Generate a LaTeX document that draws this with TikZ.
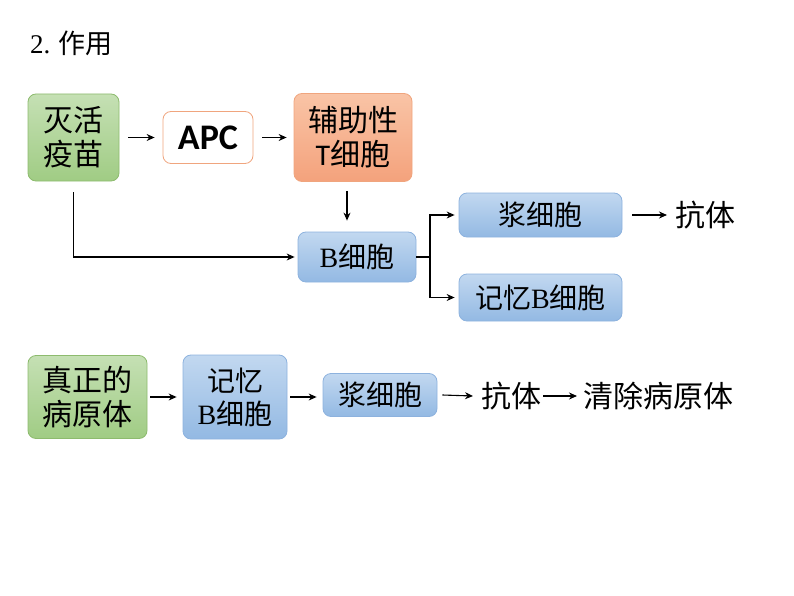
\documentclass[tikz,border=0pt]{standalone}
\usepackage{fontspec}
\setmainfont{Liberation Serif}
\newfontfamily\cjk{Noto Sans CJK SC}
\newfontfamily\calib{Carlito}
\usetikzlibrary{arrows.meta}
\definecolor{gfillT}{HTML}{C5E0B4}
\definecolor{gfillB}{HTML}{A0CC84}
\definecolor{gline}{HTML}{8DBB6E}
\definecolor{ofillT}{HTML}{F9C4A6}
\definecolor{ofillB}{HTML}{F4A27C}
\definecolor{oline}{HTML}{F0A57E}
\definecolor{bfillT}{HTML}{C2D8F0}
\definecolor{bfillB}{HTML}{93B9E3}
\definecolor{bline}{HTML}{8DB2DE}
\tikzset{
  x=1pt,y=-1pt,
  box/.style={rounded corners=8pt, line width=0.8pt, inner sep=0pt, align=center, font=\cjk\fontsize{30}{34}\selectfont},
  gbox/.style={box, draw=gline, top color=gfillT, bottom color=gfillB},
  obox/.style={box, draw=oline, top color=ofillT, bottom color=ofillB},
  bbox/.style={box, draw=bline, top color=bfillT, bottom color=bfillB, font=\cjk\fontsize{28}{33}\selectfont},
  wbox/.style={box, draw=oline, fill=white},
  txt/.style={inner sep=0pt, font=\cjk\fontsize{30}{34}\selectfont},
  arr/.style={-{Stealth[length=8pt,width=7pt]}, line width=1.1pt},
}
\begin{document}
\begin{tikzpicture}
\useasboundingbox (0,0) rectangle (794,596);
\node[anchor=west, inner sep=0pt, font=\cjk\fontsize{27}{30}\selectfont] (title) at (30,43) {{\rmfamily 2.} 作用};
% row 1
\node[gbox, minimum width=91, minimum height=87] (vac) at (73.5,137.5) {灭活\\疫苗};
\node[wbox, minimum width=90, minimum height=52, font=\calib\bfseries\fontsize{36}{40}\selectfont] (apc) at (208,137.5) {APC};
\node[obox, minimum width=118, minimum height=88] (th) at (353,137.5) {辅助性\\{\calib T}细胞};
\node[bbox, minimum width=118, minimum height=50] (b) at (357,257) {{\rmfamily B}细胞};
\node[bbox, minimum width=163, minimum height=44] (p1) at (540.5,215) {浆细胞};
\node[bbox, minimum width=163, minimum height=47] (m1) at (540.5,297.5) {记忆{\rmfamily B}细胞};
\node[txt, anchor=west] (ab1) at (675,215) {抗体};
\coordinate (split) at (430,257);
\draw[arr] ([xshift=9]vac.east) -- ([xshift=-8]apc.west);
\draw[arr] ([xshift=9]apc.east) -- ([xshift=-7]th.west);
\draw[arr] ([xshift=-6,yshift=-9]th.south) -- ([xshift=-10,yshift=11]b.north);
\draw[arr] ([yshift=-11]vac.south) |- ([xshift=-3]b.west);
\draw[line width=1.1pt] (b.east) -- (split);
\draw[arr] (split) |- ([xshift=-4]p1.west);
\draw[arr] (split) |- ([xshift=-4]m1.west);
\draw[arr] ([xshift=10]p1.east) -- ([xshift=-8]ab1.west);
% row 2
\node[gbox, minimum width=119, minimum height=83] (path) at (87.5,397) {真正的\\病原体};
\node[bbox, minimum width=104, minimum height=84] (m2) at (235,397) {记忆\\{\rmfamily B}细胞};
\node[bbox, minimum width=114, minimum height=43] (p2) at (380,395) {浆细胞};
\node[txt, anchor=west] (ab2) at (481,396) {抗体};
\node[txt, anchor=west] (clr) at (583,396) {清除病原体};
\draw[arr] ([xshift=3]path.east) -- ([xshift=-6]m2.west);
\draw[arr] ([xshift=3]m2.east) -- ([xshift=-6]m2.west -| p2.west);
\draw[arr] ([xshift=5]p2.east) -- ([xshift=-8]ab2.west);
\draw[arr] ([xshift=2]ab2.east) -- ([xshift=-6]clr.west);
\end{tikzpicture}
\end{document}
